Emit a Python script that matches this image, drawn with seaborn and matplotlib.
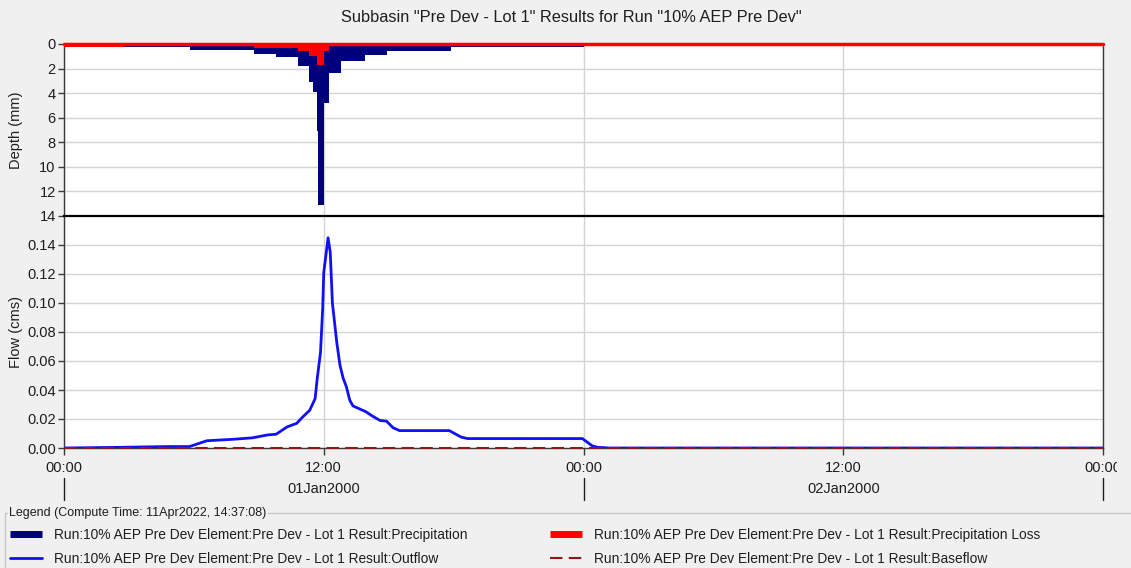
import matplotlib
matplotlib.use("Agg")
import matplotlib.pyplot as plt
import matplotlib.transforms as mtransforms
from matplotlib.lines import Line2D
import numpy as np
import seaborn as sns

# ---- data -------------------------------------------------------------
# precipitation / loss blocks: interval edges in hours from 01Jan2000 00:00
precip_edges_hr = [0, 2.8, 5.8, 8.8, 9.8, 10.8, 11.3, 11.5, 11.67, 11.75,
                   12.0, 12.25, 12.8, 13.9, 14.9, 17.9, 24.0, 48.0]
precip_mm = [0.27, 0.27, 0.52, 0.80, 1.08, 1.76, 3.06, 3.87, 7.07, 13.1,
             4.80, 2.33, 1.38, 0.89, 0.54, 0.27, 0.0]
loss_mm = [0.27, 0.10, 0.20, 0.33, 0.33, 0.60, 1.00, 1.00, 1.70, 1.70,
           0.60, 0.20, 0.20, 0.12, 0.12, 0.10, 0.0]

# outflow hydrograph
flow_hr = [0, 2.7, 4.75, 5.8, 6.3, 6.6, 7.8, 8.7, 9.4, 9.8, 10.3, 10.75,
           11.0, 11.35, 11.6, 11.7, 11.85, 11.95, 12.0, 12.2, 12.3, 12.4,
           12.6, 12.75, 12.9, 13.05, 13.2, 13.35, 13.65, 13.95, 14.25, 14.6,
           14.9, 15.2, 15.5, 16.4, 17.8, 18.35, 18.65, 23.95, 24.4, 24.65,
           25.2, 48.0]
flow_cms = [0, 0.0005, 0.001, 0.001, 0.0035, 0.005, 0.006, 0.007, 0.009,
            0.0095, 0.0145, 0.017, 0.021, 0.026, 0.034, 0.048, 0.066, 0.096,
            0.121, 0.145, 0.135, 0.100, 0.073, 0.057, 0.048, 0.042, 0.033,
            0.029, 0.027, 0.025, 0.022, 0.019, 0.0185, 0.014, 0.012, 0.012,
            0.012, 0.0075, 0.0065, 0.0065, 0.0015, 0.0005, 0.0, 0.0]

baseflow_hr = [0.0, 48.0]
baseflow_cms = [0.0, 0.0]

x_ticks_hr = [0, 12, 24, 36, 48]
x_tick_labels = ["00:00", "12:00", "00:00", "12:00", "00:00"]
day_centres_hr = [12, 36]
day_labels = ["01Jan2000", "02Jan2000"]
day_bounds_hr = [0, 24, 48]

depth_ticks = [0, 2, 4, 6, 8, 10, 12, 14]
flow_ticks = [0.00, 0.02, 0.04, 0.06, 0.08, 0.10, 0.12, 0.14]

title = 'Subbasin "Pre Dev - Lot 1" Results for Run "10% AEP Pre Dev"'
legend_title = "Legend (Compute Time: 11Apr2022, 14:37:08)"
run_prefix = "Run:10% AEP Pre Dev Element:Pre Dev - Lot 1 Result:"
lbl_precip = run_prefix + "Precipitation"
lbl_loss = run_prefix + "Precipitation Loss"
lbl_outflow = run_prefix + "Outflow"
lbl_baseflow = run_prefix + "Baseflow"

# ---- style ------------------------------------------------------------
sns.set_style("white")
plt.rcParams["font.family"] = ["Liberation Sans", "DejaVu Sans"]

C_PRECIP = "#00007a"
C_LOSS = "#ff0000"
C_FLOW = "#1010f5"
C_BASE = "#8b1a1a"
C_GRID = "#d4d4d4"
C_BG = "#f0f0f0"
C_TXT = "#1e1e1e"

W, H = 1131, 568
fig = plt.figure(figsize=(W / 100, H / 100), dpi=100, facecolor=C_BG)

L, R = 64 / W, 1103 / W
ax2 = fig.add_axes([L, 1 - 448 / H, R - L, (448 - 216) / H])
ax1 = fig.add_axes([L, 1 - 216 / H, R - L, (216 - 44) / H])
ax1.set_zorder(3)

for ax in (ax1, ax2):
    ax.set_facecolor("white")
    ax.set_xlim(0, 48)
    ax.set_xticks(x_ticks_hr)
    ax.grid(True, color=C_GRID, lw=1.0)
    ax.set_axisbelow(True)
    for s in ("left", "right", "bottom"):
        ax.spines[s].set_color("#3a3a3a")
        ax.spines[s].set_linewidth(1.0)
    ax.spines["top"].set_visible(False)
    ax.tick_params(axis="y", direction="out", length=4, width=1,
                   colors="#3a3a3a", labelcolor=C_TXT, labelsize=10.5, pad=2,
                   left=True)

# ---- top panel: hyetograph (depth axis inverted) -----------------------
ax1.stairs(precip_mm, precip_edges_hr, baseline=0, fill=True,
           color=C_PRECIP, lw=0, zorder=2)
ax1.stairs(loss_mm, precip_edges_hr, baseline=0, fill=True,
           color=C_LOSS, lw=0, zorder=3)
ax1.plot([0, 48], [0, 0], color=C_LOSS, lw=2.5, zorder=4, clip_on=False)
ax1.set_ylim(14.0, 0)
ax1.set_yticks(depth_ticks)
ax1.set_yticklabels([str(t) for t in depth_ticks])
ax1.tick_params(axis="x", length=0, labelbottom=False)
ax1.spines["bottom"].set_color("black")
ax1.spines["bottom"].set_linewidth(1.6)
ax1.set_ylabel("Depth (mm)", fontsize=10.5, color=C_TXT)
ax1.yaxis.set_label_coords(-0.039, 0.5)

# ---- bottom panel: hydrograph -----------------------------------------
sns.lineplot(x=flow_hr, y=flow_cms, ax=ax2, color=C_FLOW, lw=2.0,
             label=lbl_outflow, legend=False, zorder=3)
sns.lineplot(x=baseflow_hr, y=baseflow_cms, ax=ax2, color=C_BASE, lw=1.5,
             linestyle=(0, (6, 3)), label=lbl_baseflow, legend=False,
             zorder=4, clip_on=False)
ax2.set_ylim(0, 0.16)
ax2.set_yticks(flow_ticks)
ax2.set_yticklabels([f"{t:.2f}" for t in flow_ticks])
ax2.set_xticklabels(x_tick_labels)
ax2.tick_params(axis="x", direction="out", length=5, width=1,
                colors="#3a3a3a", labelcolor=C_TXT, labelsize=10.5, pad=4,
                bottom=True)
ax2.set_ylabel("Flow (cms)", fontsize=10.5, color=C_TXT)
ax2.yaxis.set_label_coords(-0.039, 0.5)
ax2.set_xlabel("")

# last time label is cut at the panel edge
clip_rect = mtransforms.TransformedBbox(
    mtransforms.Bbox([[0, 0], [1117 / W, 1]]), fig.transFigure)
last_lbl = ax2.get_xticklabels()[-1]
last_lbl.set_clip_box(clip_rect)
last_lbl.set_clip_on(True)

# day row beneath the time labels
blend = mtransforms.blended_transform_factory(ax2.transData, fig.transFigure)
for xb in day_bounds_hr:
    fig.add_artist(Line2D([xb, xb], [1 - 478 / H, 1 - 500 / H],
                          transform=blend, color=C_TXT, lw=1.0))
for xc, txt in zip(day_centres_hr, day_labels):
    fig.text(xc, 1 - 489 / H, txt, transform=blend, ha="center",
             va="center", fontsize=10.5, color=C_TXT)

# ---- title ------------------------------------------------------------
fig.text(571 / W, 1 - 18 / H, title, ha="center", va="center",
         fontsize=11.8, color=C_TXT)

# ---- legend -----------------------------------------------------------
fig.add_artist(Line2D([5 / W, 1.0], [1 - 513 / H, 1 - 513 / H],
                      transform=fig.transFigure, color="#c8c8c8", lw=1.0))
fig.add_artist(Line2D([5 / W, 5 / W], [1 - 513 / H, 0.0],
                      transform=fig.transFigure, color="#c8c8c8", lw=1.0))
fig.text(9 / W, 1 - 513 / H, legend_title, ha="left", va="center",
         fontsize=9, color=C_TXT,
         bbox=dict(facecolor=C_BG, edgecolor="none", pad=1.0))

h_precip = Line2D([], [], color=C_PRECIP, lw=5, solid_capstyle="butt",
                  label=lbl_precip)
h_loss = Line2D([], [], color=C_LOSS, lw=5, solid_capstyle="butt",
                label=lbl_loss)
flow_line, base_line = ax2.get_lines()[:2]

common = dict(loc="upper left", frameon=False, fontsize=9.9,
              handlelength=2.3, handletextpad=0.9, labelspacing=0.72,
              borderpad=0, borderaxespad=0)
leg1 = fig.legend(handles=[h_precip, flow_line],
                  bbox_to_anchor=(10 / W, 1 - 528 / H), **common)
leg2 = fig.legend(handles=[h_loss, base_line],
                  bbox_to_anchor=(550 / W, 1 - 528 / H), **common)
for leg in (leg1, leg2):
    for t in leg.get_texts():
        t.set_color(C_TXT)

fig.savefig("out.png", dpi=100, facecolor=C_BG)
